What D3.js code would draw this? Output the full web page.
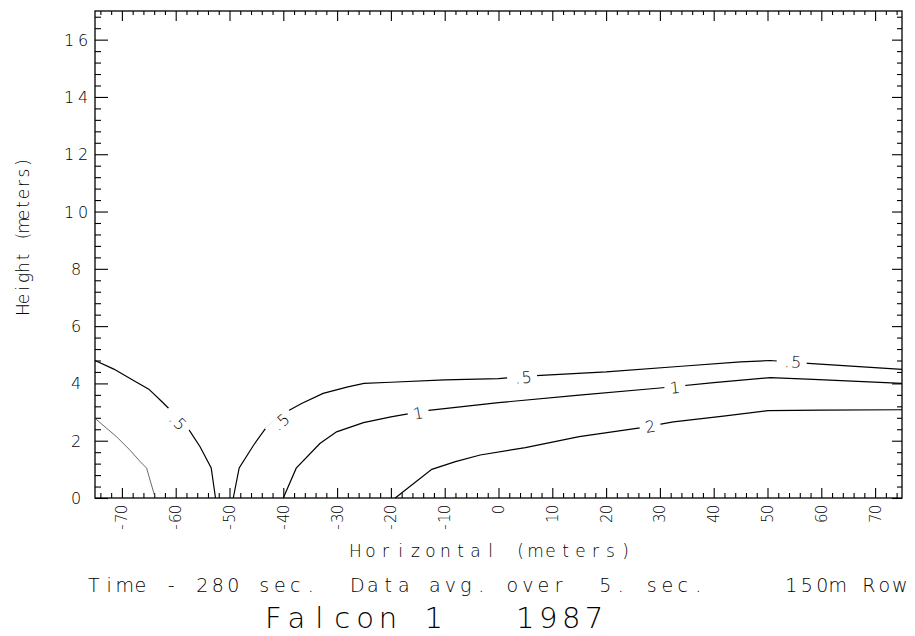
<!DOCTYPE html>
<html>
<head>
<meta charset="utf-8">
<script src="https://cdn.jsdelivr.net/npm/d3@7"></script>
<style>
  html, body { margin: 0; padding: 0; background: #fff; }
  svg { display: block; }
  text { font-family: "DejaVu Sans", sans-serif; font-weight: 300; fill: #000; white-space: pre; }
</style>
</head>
<body>
<svg id="chart" width="915" height="636"></svg>
<script>
// ---------------- data ----------------
const xMajorTicks = [-70, -60, -50, -40, -30, -20, -10, 0, 10, 20, 30, 40, 50, 60, 70];
const xTickLabels = ["-70", "-60", "-50", "-40", "-30", "-20", "-10", "0", "10", "20", "30", "40", "50", "60", "70"];
const yMajorTicks = [0, 2, 4, 6, 8, 10, 12, 14, 16];
const yTickLabels = ["0", "2", "4", "6", "8", "10", "12", "14", "16"];

// contour lines: [horizontal m, height m]
const contourHalfLeft = [[-75, 4.8], [-71.5, 4.5], [-68, 4.12], [-65, 3.8], [-62.5, 3.35], [-60.4, 2.96],
  [-57.7, 2.43], [-55.5, 1.8], [-53.4, 1.05], [-52.6, 0]];
const contourOneLeft = [[-75, 2.78], [-71, 2.14], [-68.5, 1.67], [-66.6, 1.27], [-65.4, 1.04], [-63.8, 0]];
const contourHalfRight = [[-49.3, 0], [-48.2, 1.05], [-45.5, 1.85], [-43.4, 2.4], [-40, 2.95], [-36.6, 3.3],
  [-32.6, 3.65], [-28, 3.88], [-25, 4.0], [-20, 4.04], [-10, 4.12], [0, 4.17], [7, 4.27], [20, 4.4],
  [34, 4.6], [45, 4.75], [50.5, 4.8], [57.6, 4.7], [75, 4.49]];
const contourOne = [[-40, 0], [-37.6, 1.04], [-33.2, 1.9], [-30.1, 2.31], [-25.1, 2.63], [-20, 2.83],
  [-13.4, 3.05], [0, 3.33], [15, 3.59], [30, 3.84], [40, 4.03], [50.5, 4.2], [58.5, 4.14], [75, 4.0]];
const contourTwo = [[-19.2, 0], [-12.4, 1.0], [-8, 1.27], [-3.4, 1.5], [5, 1.76], [15, 2.14], [26.3, 2.45],
  [32.5, 2.66], [41.8, 2.86], [50.1, 3.05], [60, 3.07], [75, 3.08]];

const contourLabelText = [".5", ".5", ".5", ".5", "1", "1", "2"];
const contourLabelX = [-59.8, -40.6, 4.4, 54.5, -14.9, 32.8, 28.2];
const contourLabelY = [2.69, 2.62, 4.2, 4.75, 2.95, 3.85, 2.49];
const contourLabelLine = ["halfLeft", "halfRight", "halfRight", "halfRight", "one", "one", "two"];

const xTitle = "Horizontal (meters)";
const yTitle = "Height (meters)";
const infoLine = "Time - 280 sec.  Data avg. over  5. sec.     150m Row";
const titleLine = "Falcon 1   1987";

// ---------------- drawing ----------------
const svg = d3.select("#chart");
const x = d3.scaleLinear().domain([-75, 75]).range([95, 902]);
const y = d3.scaleLinear().domain([0, 17]).range([498, 11]);

const xMinor = d3.range(-74, 75, 2).filter(v => v % 10 !== 0);
const yMinor = d3.range(0, 17.01, 0.4).map(v => +v.toFixed(1)).filter(v => Math.abs(v / 2 - Math.round(v / 2)) > 1e-6);

function axisG(axis, tx, ty) {
  const g = svg.append("g").attr("transform", `translate(${tx},${ty})`).call(axis);
  g.select(".domain").remove();
  g.selectAll(".tick line").attr("stroke", "#000").attr("stroke-width", 1.1);
  return g;
}
// bottom
axisG(d3.axisBottom(x).tickValues(xMajorTicks).tickSize(-10).tickFormat(""), 0, 498);
axisG(d3.axisBottom(x).tickValues(xMinor).tickSize(-5).tickFormat(""), 0, 498);
// top
axisG(d3.axisTop(x).tickValues(xMajorTicks).tickSize(-10).tickFormat(""), 0, 11);
axisG(d3.axisTop(x).tickValues(xMinor).tickSize(-4).tickFormat(""), 0, 11);
// left
axisG(d3.axisLeft(y).tickValues(yMajorTicks).tickSize(-13).tickFormat(""), 95, 0);
axisG(d3.axisLeft(y).tickValues(yMinor).tickSize(-6).tickFormat(""), 95, 0);
// right
axisG(d3.axisRight(y).tickValues(yMajorTicks).tickSize(-10).tickFormat(""), 902, 0);
axisG(d3.axisRight(y).tickValues(yMinor).tickSize(-5).tickFormat(""), 902, 0);

// frame
svg.append("rect")
  .attr("x", x(-75)).attr("y", y(17))
  .attr("width", x(75) - x(-75)).attr("height", y(0) - y(17))
  .attr("fill", "none").attr("stroke", "#000").attr("stroke-width", 1.3);

// monospaced text helper: one text element, each character placed on a grid
function monoText(parent, str, startX, baseY, adv, size) {
  const xs = [];
  for (let i = 0; i < str.length; i++) xs.push((startX + (i + 0.5) * adv).toFixed(2));
  return parent.append("text")
    .attr("x", xs.join(" "))
    .attr("y", baseY)
    .attr("text-anchor", "middle")
    .attr("font-size", size)
    .text(str);
}

// y tick labels
yMajorTicks.forEach((v, i) => {
  const s = yTickLabels[i];
  const adv = 14;
  monoText(svg, s, 76 - s.length * adv / 2, y(v) + 6, adv, 16);
});

// x tick labels (rotated, reading upward, ending just under the axis)
xMajorTicks.forEach((v, i) => {
  const s = xTickLabels[i];
  const adv = 8.8;
  const g = svg.append("g").attr("transform", `translate(${x(v)},505) rotate(-90)`);
  monoText(g, s, -s.length * adv, 5.5, adv, 15);
});

// axis titles and footer
monoText(svg, xTitle, 348, 557, 15.0, 17);
const gy = svg.append("g").attr("transform", "translate(29,236) rotate(-90)");
monoText(gy, yTitle, -yTitle.length * 10.5 / 2, 0, 10.5, 17);
monoText(svg, infoLine, 86, 592, 15.5, 19);
monoText(svg, titleLine, 262, 628, 22.9, 29);

// contours
const line = d3.line().x(d => x(d[0])).y(d => y(d[1]));
const lines = {
  halfLeft: contourHalfLeft,
  oneLeft: contourOneLeft,
  halfRight: contourHalfRight,
  one: contourOne,
  two: contourTwo
};
Object.entries(lines).forEach(([k, pts]) => {
  svg.append("path")
    .attr("d", line(pts))
    .attr("fill", "none")
    .attr("stroke", k === "oneLeft" ? "#444" : "#000")
    .attr("stroke-width", k === "oneLeft" ? 0.8 : 1.2);
});

// contour labels, oriented along the local segment
contourLabelText.forEach((t, i) => {
  const pts = lines[contourLabelLine[i]];
  const lx = contourLabelX[i], ly = contourLabelY[i];
  let best = 0, bestD = Infinity;
  for (let j = 0; j < pts.length - 1; j++) {
    const mx = (pts[j][0] + pts[j + 1][0]) / 2, my = (pts[j][1] + pts[j + 1][1]) / 2;
    const d = Math.hypot(x(mx) - x(lx), y(my) - y(ly));
    if (d < bestD) { bestD = d; best = j; }
  }
  const p0 = pts[best], p1 = pts[best + 1];
  let ang = Math.atan2(y(p1[1]) - y(p0[1]), x(p1[0]) - x(p0[0])) * 180 / Math.PI;
  if (ang > 90) ang -= 180;
  if (ang < -90) ang += 180;
  const g = svg.append("g").attr("transform", `translate(${x(lx)},${y(ly)}) rotate(${ang})`);
  const w = t.length * 9 + 12;
  g.append("rect").attr("x", -w / 2).attr("y", -6).attr("width", w).attr("height", 12).attr("fill", "#fff");
  const adv = 9;
  monoText(g, t, -t.length * adv / 2, 5.5, adv, 16);
});
</script>
</body>
</html>
